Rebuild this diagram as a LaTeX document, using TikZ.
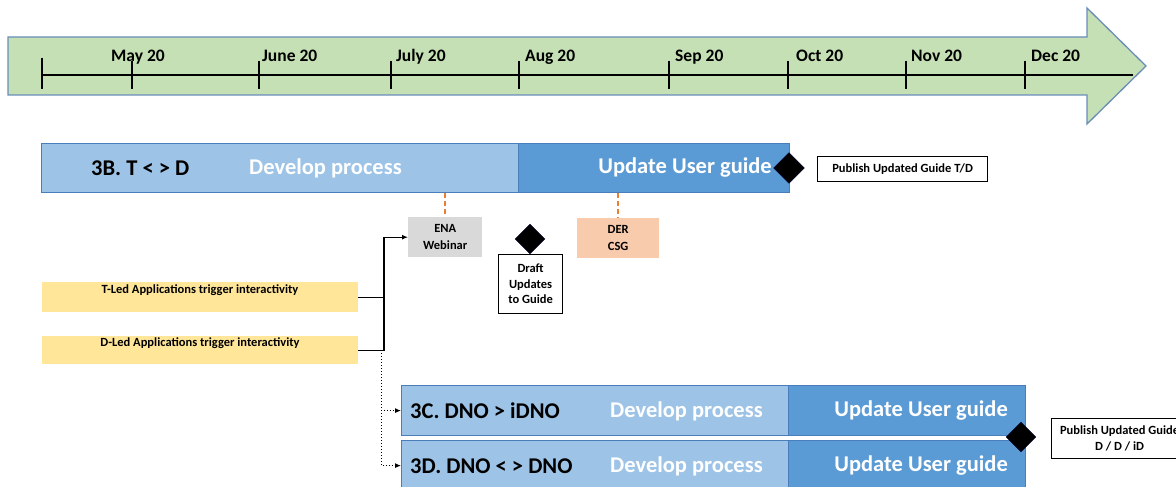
\documentclass[tikz,border=0pt]{standalone}
\usepackage{fontspec}
\setmainfont{Carlito}
\usetikzlibrary{shapes.geometric,arrows.meta}
\definecolor{arrowgreen}{HTML}{C5E0B4}
\definecolor{arrowedge}{HTML}{6A8DB8}
\definecolor{barlight}{HTML}{9DC3E6}
\definecolor{bardark}{HTML}{5B9BD5}
\definecolor{baredge}{HTML}{4A7EBB}
\definecolor{ylw}{HTML}{FFE699}
\definecolor{gry}{HTML}{D9D9D9}
\definecolor{peach}{HTML}{F8CBAD}
\definecolor{orng}{HTML}{ED7D31}
\tikzset{
  barL/.style={rectangle, draw=baredge, line width=1.2pt, fill=barlight, anchor=north west, inner sep=0pt},
  barR/.style={rectangle, draw=baredge, line width=1.2pt, fill=bardark, anchor=north west, inner sep=0pt},
  bigtxt/.style={font=\bfseries\fontsize{22.5}{26}\selectfont, inner sep=0pt},
  month/.style={font=\bfseries\fontsize{17.5}{20}\selectfont, inner sep=0pt, anchor=base west},
  milestone/.style={diamond, fill=black, draw=black!80!blue, inner sep=0pt, minimum width=31pt, minimum height=31pt},
  infobox/.style={rectangle, draw=black, line width=1.2pt, fill=white, align=center, inner sep=0pt, font=\bfseries\fontsize{12.5}{15.5}\selectfont},
  smallbox/.style={rectangle, align=center, inner sep=0pt, font=\bfseries\fontsize{12.5}{17}\selectfont},
  leadbox/.style={rectangle, fill=ylw, anchor=north west, inner sep=0pt, minimum width=316pt},
  leadtxt/.style={font=\bfseries\fontsize{12.5}{14}\selectfont, inner sep=0pt},
  conn/.style={line width=1.3pt, -{Latex[length=6pt,width=5pt]}},
  dotconn/.style={line width=1pt, dotted, -{Latex[length=6pt,width=5pt]}},
  dashconn/.style={draw=orng, line width=1.5pt, dash pattern=on 5pt off 3pt},
  tick/.style={line width=2.8pt}
}
\begin{document}
\begin{tikzpicture}[x=1pt,y=-1pt]
\useasboundingbox (0,0) rectangle (1176,487);
% timeline arrow
\draw[arrowedge, line width=1.3pt, fill=arrowgreen] (8,37) -- (1087,37) -- (1087,8) -- (1146,66) -- (1087,124) -- (1087,95) -- (8,95) -- cycle;
\draw[line width=1.3pt] (42,75) -- (1133,75);
\draw[tick] (42,58) -- (42,89);
\foreach \x in {132,259,391,519,669,788,906,1025} {\draw[tick] (\x,61) -- (\x,89);}
\node[month] (m5) at (111,62) {May 20};
\node[month] (m6) at (262,62) {June 20};
\node[month] (m7) at (396,62) {July 20};
\node[month] (m8) at (525,62) {Aug 20};
\node[month] (m9) at (675,62) {Sep 20};
\node[month] (m10) at (796,62) {Oct 20};
\node[month] (m11) at (911,62) {Nov 20};
\node[month] (m12) at (1031,62) {Dec 20};

% 3B bar
\node[barL, minimum width=477pt, minimum height=49pt] (b3l) at (41,143) {};
\node[barR, minimum width=271pt, minimum height=49pt] (b3r) at (518,143) {};
\node[bigtxt, anchor=west] (b3t) at (91,168) {3B. T < > D};
\node[bigtxt, anchor=west, text=white] (b3d) at (249,168) {Develop process};
\node[bigtxt, anchor=east, text=white] (b3u) at (772,168) {Update User guide};
\node[milestone] (dm1) at (789,168) {};
\node[infobox, minimum width=170pt, minimum height=25pt, anchor=north west] (pub1) at (817,156) {Publish Updated Guide T/D};

% ENA / DER
\node[smallbox, fill=gry, minimum width=74pt, minimum height=40pt, anchor=north west] (ena) at (408,217) {ENA\\Webinar};
\node[smallbox, fill=peach, minimum width=82pt, minimum height=40pt, anchor=north west] (der) at (577,218) {DER\\CSG};
\draw[dashconn] (b3l.south -| ena.north) -- (ena.north);
\draw[dashconn] (b3r.south -| der.north) -- (der.north);

% Draft
\node[milestone, minimum width=30pt, minimum height=30pt] (dm2) at (530,239) {};
\node[infobox, minimum width=64pt, minimum height=59pt, anchor=north west] (draft) at (498,254) {Draft\\Updates\\to Guide};

% lead boxes
\node[leadbox, minimum height=30pt] (tled) at (42,282) {};
\node[leadtxt] (tledt) at (200,290) {T-Led Applications trigger interactivity};
\node[leadbox, minimum height=28pt] (dled) at (42,336) {};
\node[leadtxt] (dledt) at (200,343) {D-Led Applications trigger interactivity};

% 3C / 3D bars
\node[barL, minimum width=387pt, minimum height=50pt] (c3l) at (401,385) {};
\node[barR, minimum width=237pt, minimum height=50pt] (c3r) at (788,385) {};
\node[barL, minimum width=387pt, minimum height=50pt] (d3l) at (401,440) {};
\node[barR, minimum width=237pt, minimum height=50pt] (d3r) at (788,440) {};
\node[bigtxt, anchor=west] (c3t) at (410,411) {3C. DNO > iDNO};
\node[bigtxt, anchor=west, text=white] (c3d) at (610,411) {Develop process};
\node[bigtxt, anchor=east, text=white] (c3u) at (1008,411) {Update User guide};
\node[bigtxt, anchor=west] (d3t) at (410,466) {3D. DNO < > DNO};
\node[bigtxt, anchor=west, text=white] (d3d) at (610,466) {Develop process};
\node[bigtxt, anchor=east, text=white] (d3u) at (1008,466) {Update User guide};
\node[milestone, minimum width=30pt, minimum height=30pt] (dm3) at (1021,437) {};
\node[infobox, minimum width=136pt, minimum height=40pt, anchor=north west] (pub2) at (1051,418) {Publish Updated Guide\\D / D / iD};

% connectors
\coordinate (jn) at (384,0);
\draw[line width=1.3pt] (tled.east) -- (tled.east -| jn);
\draw[conn] (dled.east) -- (dled.east -| jn) |- (ena.west);
\coordinate (jd) at (381,0);
\draw[dotconn] (dled.east -| jd) |- (c3l.west);
\draw[dotconn] (dled.east -| jd) |- (d3l.west);
\end{tikzpicture}
\end{document}
